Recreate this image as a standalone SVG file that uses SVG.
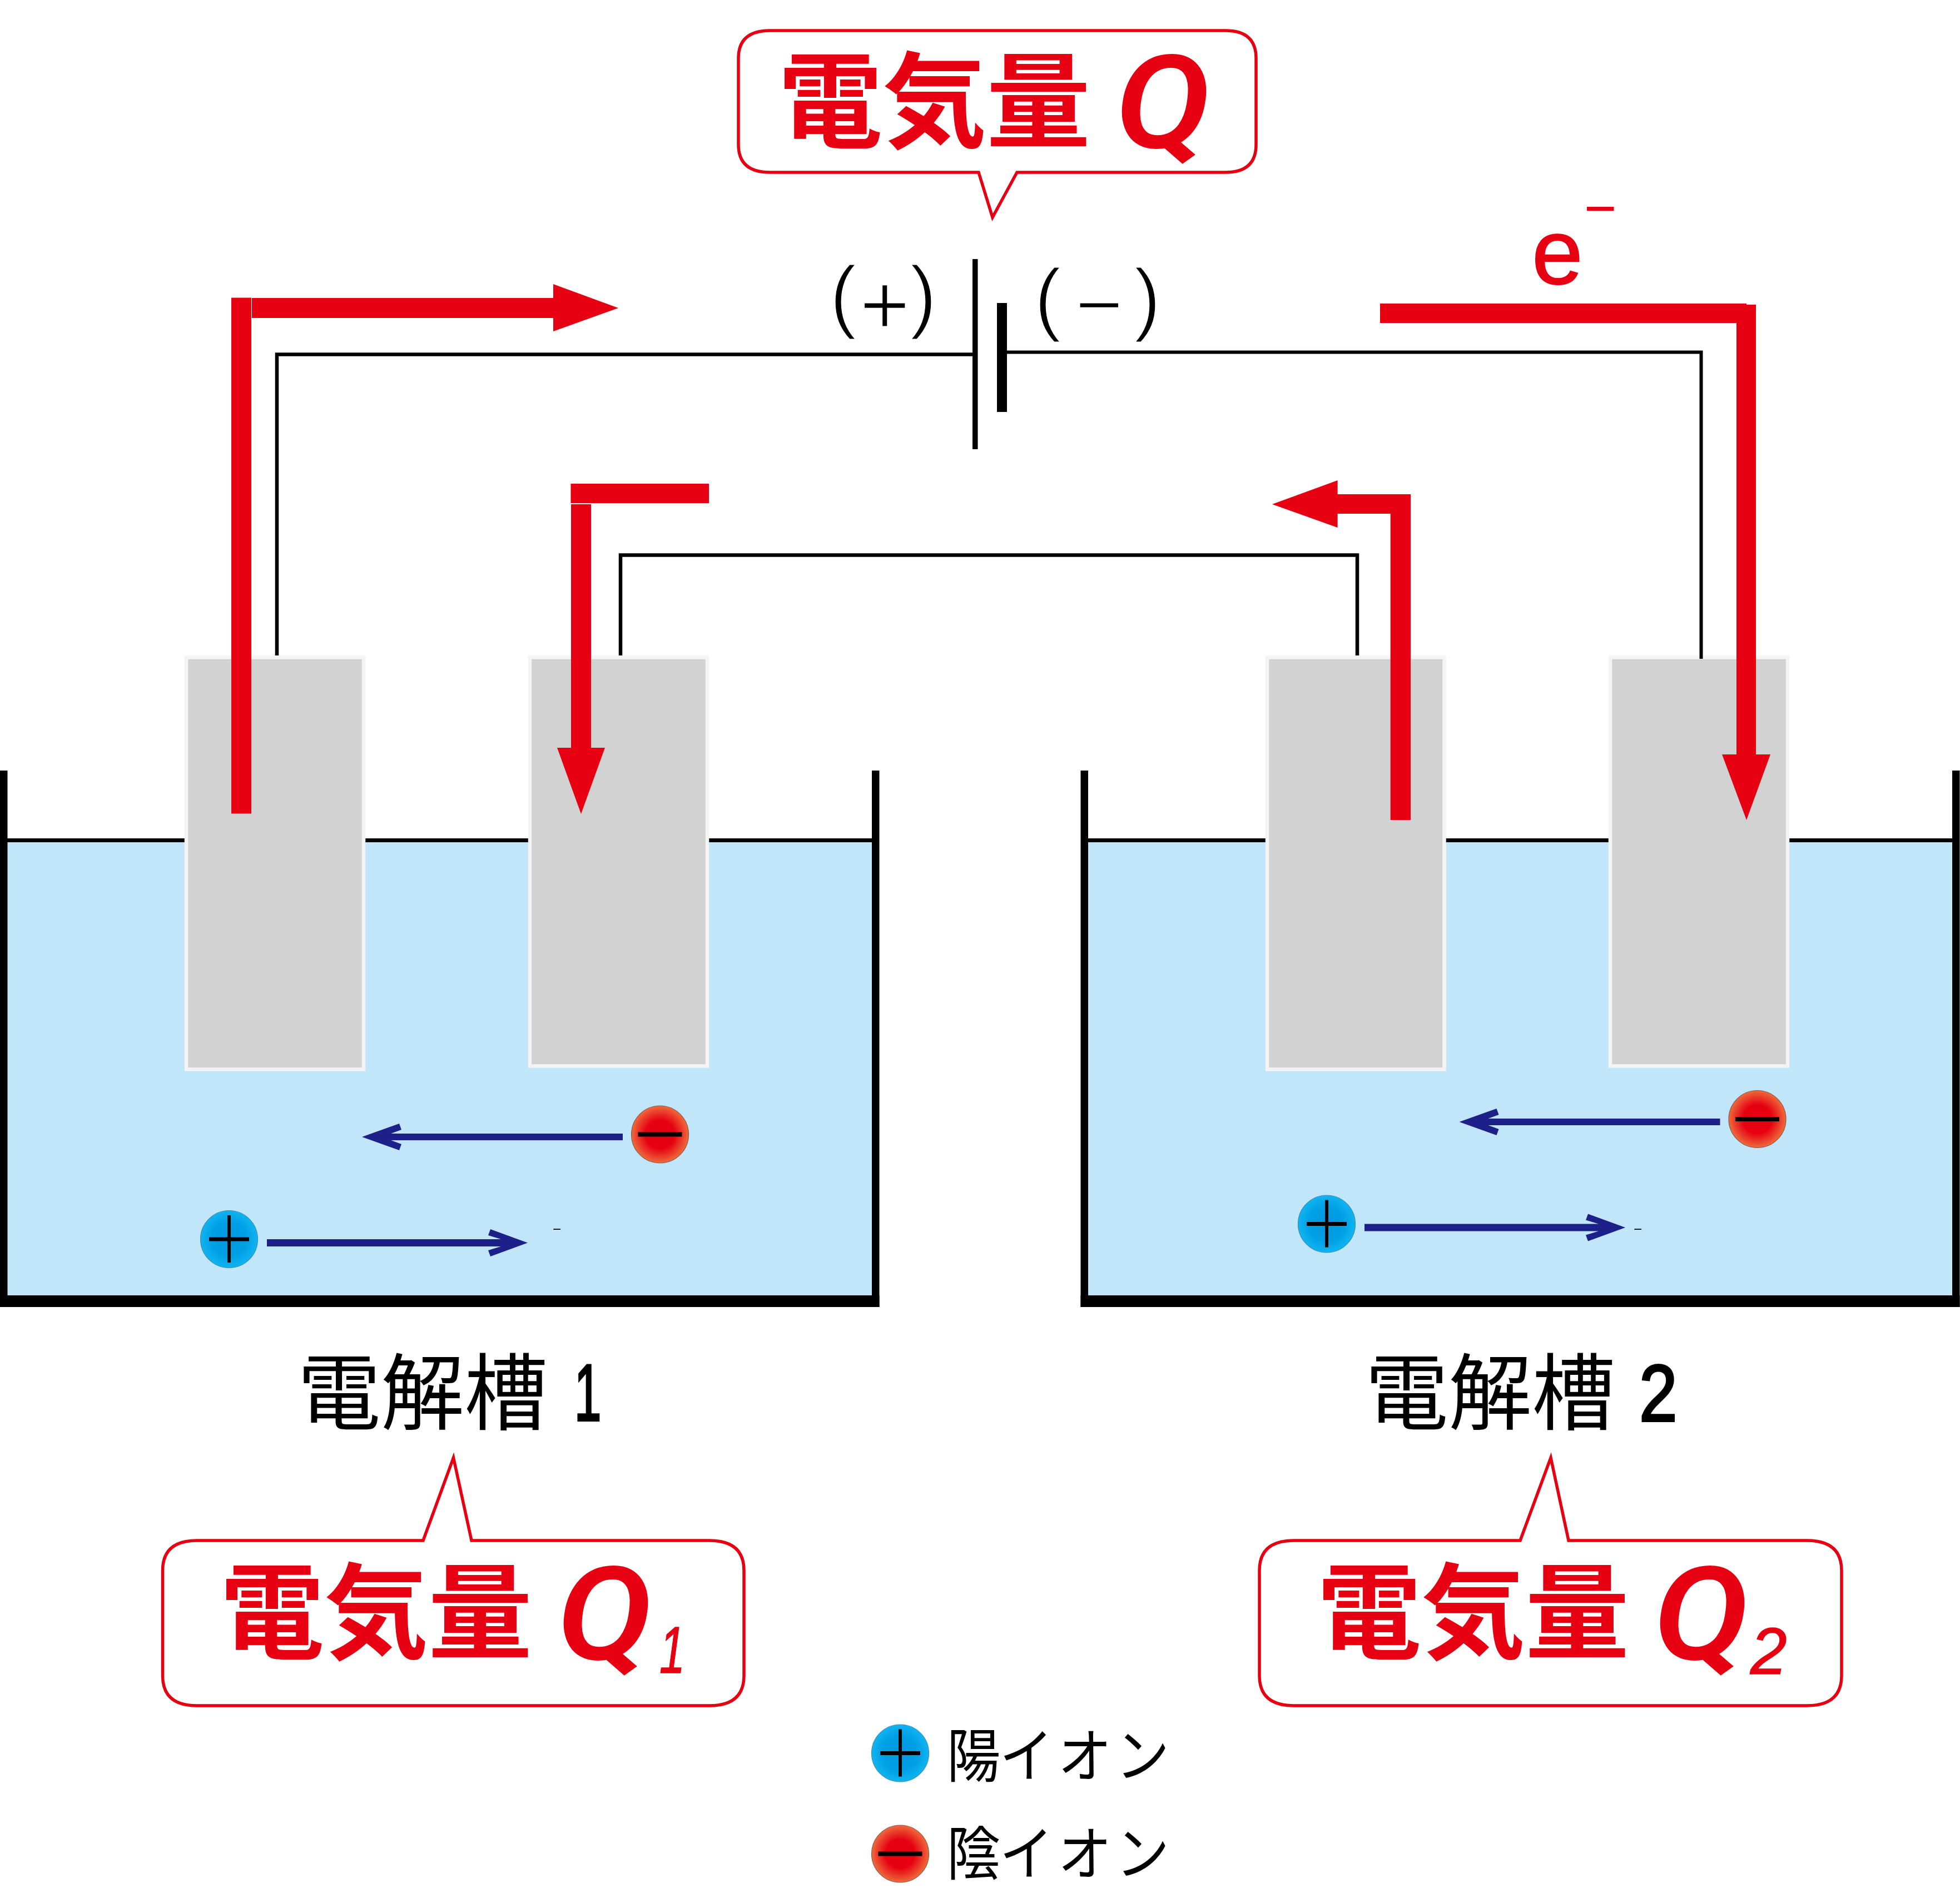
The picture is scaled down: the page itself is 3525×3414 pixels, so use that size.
<svg xmlns="http://www.w3.org/2000/svg" width="3525" height="3414" viewBox="0 0 3525 3414">
<style>
.red{fill:#e60012}
.blk{fill:#000}
.fluid{fill:#c1e5f9}
.elec{fill:#d2d2d2;stroke:#f4f4f4;stroke-width:6.5}
.navy{fill:#1d2088}
.call{fill:#fff;stroke:#e60012;stroke-width:5.5;stroke-miterlimit:10}
.cjkb{font-family:"Noto Sans CJK JP",sans-serif;font-weight:700;font-size:187px;fill:#e60012}
.cjk{font-family:"Noto Sans CJK JP",sans-serif;font-weight:400;fill:#000}
.lat{font-family:"Liberation Sans",Arial,sans-serif;fill:#000}
.num{font-family:"Liberation Sans",Arial,sans-serif;fill:#000;stroke:#000;stroke-width:4}
.thin{stroke:#fff;stroke-width:3}
.q{font-family:Roboto,"Liberation Sans",sans-serif;font-style:italic;font-weight:500;fill:#e60012;stroke:#e60012;stroke-width:2}
.sub{font-family:"Liberation Sans",Arial,sans-serif;font-style:italic;fill:#e60012;stroke:#e60012;stroke-width:1.5}
</style>
<defs>
<radialGradient id="gp"><stop offset="0" stop-color="#0098df"/><stop offset=".6" stop-color="#009fe6"/><stop offset="1" stop-color="#10b4ef"/></radialGradient>
<radialGradient id="gn"><stop offset="0" stop-color="#e60012"/><stop offset=".5" stop-color="#e60012"/><stop offset="1" stop-color="#ee6a3c"/></radialGradient>
<g id="pos"><circle r="51.5" fill="url(#gp)" stroke="#3a8fb5" stroke-width="1.2"/><rect x="-36" y="-3.5" width="72" height="7"/><rect x="-3" y="-43" width="6" height="85"/></g>
<g id="neg"><circle r="51.5" fill="url(#gn)" stroke="#8f5a44" stroke-width="1.2"/><rect x="-39.5" y="-4" width="79" height="8"/></g>
<path id="ar-l" class="navy" d="M651 2045L718 2021L722 2032L703 2039H1120V2051H703L722 2058L718 2069Z"/>
<path id="ar-r" class="navy" d="M949 2235.5L882 2211L878 2222L901 2229H480V2242H901L878 2249L882 2260Z"/>
</defs>
<rect width="3525" height="3414" fill="#fff"/>

<g id="tank1">
<rect class="fluid" x="13" y="1512" width="1556" height="820"/>
<rect class="blk" x="13" y="1508" width="1556" height="7"/>
<rect class="blk" x="0" y="1386" width="13.5" height="965"/>
<rect class="blk" x="1568" y="1386" width="13.5" height="965"/>
<rect class="blk" x="0" y="2330" width="1581.5" height="21"/>
</g>
<g id="tank2">
<rect class="fluid" x="1957" y="1512" width="1555" height="820"/>
<rect class="blk" x="1957" y="1508" width="1555" height="7"/>
<rect class="blk" x="1943.5" y="1386" width="13.5" height="965"/>
<rect class="blk" x="3511" y="1386" width="13.5" height="965"/>
<rect class="blk" x="1943.5" y="2330" width="1581" height="21"/>
</g>

<g id="electrode-a"><rect class="elec" x="335" y="1182.5" width="319" height="741"/></g>
<g id="electrode-b"><rect class="elec" x="953" y="1182.5" width="319" height="735"/></g>
<g id="electrode-c"><rect class="elec" x="2279" y="1182.5" width="318.500" height="741"/></g>
<g id="electrode-d"><rect class="elec" x="2896" y="1182.5" width="319" height="735"/></g>

<g id="battery">
<rect class="blk" x="1749" y="466" width="9.500" height="342"/>
<rect class="blk" x="1793" y="545" width="18" height="196"/>
<text class="lat thin" font-size="147"><tspan x="1492" y="581">(</tspan><tspan x="1546" y="602" font-size="155">+</tspan><tspan x="1636" y="581">)</tspan></text>
<text class="lat thin" font-size="147"><tspan x="1860" y="586">(</tspan><tspan x="1934" y="598">−</tspan><tspan x="2039" y="586">)</tspan></text>
</g>

<g id="connectors">
<path d="M498 1179V637.500H1750" fill="none" stroke="#000" stroke-width="6.500"/>
<path d="M1811 633.500H3059.500V1185" fill="none" stroke="#000" stroke-width="6"/>
<path d="M1116 1179V998.500H2441V1179" fill="none" stroke="#000" stroke-width="6.500"/>
<g id="current-1" class="red">
<rect x="416" y="535.500" width="36" height="928"/>
<path d="M453 536H995V511L1112 554L995 596V572H453Z"/>
</g>
<g id="current-2" class="red">
<rect x="1026.500" y="870" width="248.500" height="35"/>
<path d="M1027 907H1063V1345H1088L1045 1464L1002 1345H1027Z"/>
</g>
<g id="current-3" class="red">
<path d="M2537 1475H2500.700V924H2405.600V949L2288 907L2405.600 864V889H2537Z"/>
</g>
<g id="current-4" class="red">
<path d="M2482 546H3141V548H3158V1357H3184L3141 1475L3097 1357H3123V581H2482Z"/>
</g>
<use href="#ar-l"/>
<use href="#ar-r"/>
<use href="#ar-l" transform="translate(1973.500 -27)"/>
<use href="#ar-r" transform="translate(1974 -27.500)"/>
</g>

<g id="ion-neg-1"><use href="#neg" x="1187" y="2040.500"/></g>
<g id="ion-pos-1"><use href="#pos" x="412" y="2229"/></g>
<g id="ion-neg-2"><use href="#neg" x="3160.500" y="2013"/></g>
<g id="ion-pos-2"><use href="#pos" x="2386" y="2201.500"/></g>
<text class="lat" font-size="26" x="994" y="2220">−</text>
<text class="lat" font-size="26" x="2938" y="2219.500">−</text>

<g id="electron">
<text x="2755" y="510" font-family="Liberation Sans,Arial,sans-serif" font-size="165" fill="#e60012" stroke="#e60012" stroke-width="2">e</text>
<text x="2849" y="409" font-family="Liberation Sans,Arial,sans-serif" font-size="100" fill="#e60012">−</text>
</g>

<g id="callout-q">
<path class="call" d="M1385 55H2204Q2259 55 2259 105V260Q2259 310 2204 310H1829L1785 391L1760 310H1385Q1328 310 1328 260V105Q1328 55 1385 55Z"/>
<text class="cjkb" x="1400" y="251">電気量</text>
<text class="q" transform="translate(2006 265) scale(1.1 1)" font-size="232">Q</text>
</g>

<g id="callout-q1">
<path class="call" d="M354 2771H761L815.500 2622L848 2771H1276Q1338 2771 1338 2825V3014Q1338 3068 1276 3068H354Q292.500 3068 292.500 3014V2825Q292.500 2771 354 2771Z"/>
<text class="cjkb" x="396" y="2969">電気量</text>
<text class="q" transform="translate(1002 2984) scale(1.1 1)" font-size="232">Q</text>
<text class="sub" transform="translate(1186 3009) scale(.7 1)" font-size="118">1</text>
</g>

<g id="callout-q2">
<path class="call" d="M2327 2771H2734L2789 2622L2821 2771H3250Q3312 2771 3312 2825V3014Q3312 3068 3250 3068H2327Q2265 3068 2265 3014V2825Q2265 2771 2327 2771Z"/>
<text class="cjkb" x="2369" y="2969">電気量</text>
<text class="q" transform="translate(2974 2984) scale(1.1 1)" font-size="232">Q</text>
<text class="sub" x="3148" y="3011" font-size="118">2</text>
</g>

<g id="label-1">
<text class="cjk" x="535" y="2560" font-size="150">電解槽</text>
<text class="num" transform="translate(1033 2555) scale(.6 1)" font-size="145">1</text>
</g>
<g id="label-2">
<text class="cjk" x="2455" y="2560" font-size="150">電解槽</text>
<text class="num" transform="translate(2948 2556) scale(.85 1)" font-size="145">2</text>
</g>

<g id="legend-pos">
<use href="#pos" x="1619" y="3153.500"/>
<text class="cjk" transform="translate(1703 3196) scale(.92 1)" x="0 103 217 330" y="0" font-size="105">陽イオン</text>
</g>
<g id="legend-neg">
<use href="#neg" x="1619" y="3334.500"/>
<text class="cjk" transform="translate(1703 3372) scale(.92 1)" x="0 103 217 330" y="0" font-size="105">陰イオン</text>
</g>
</svg>
